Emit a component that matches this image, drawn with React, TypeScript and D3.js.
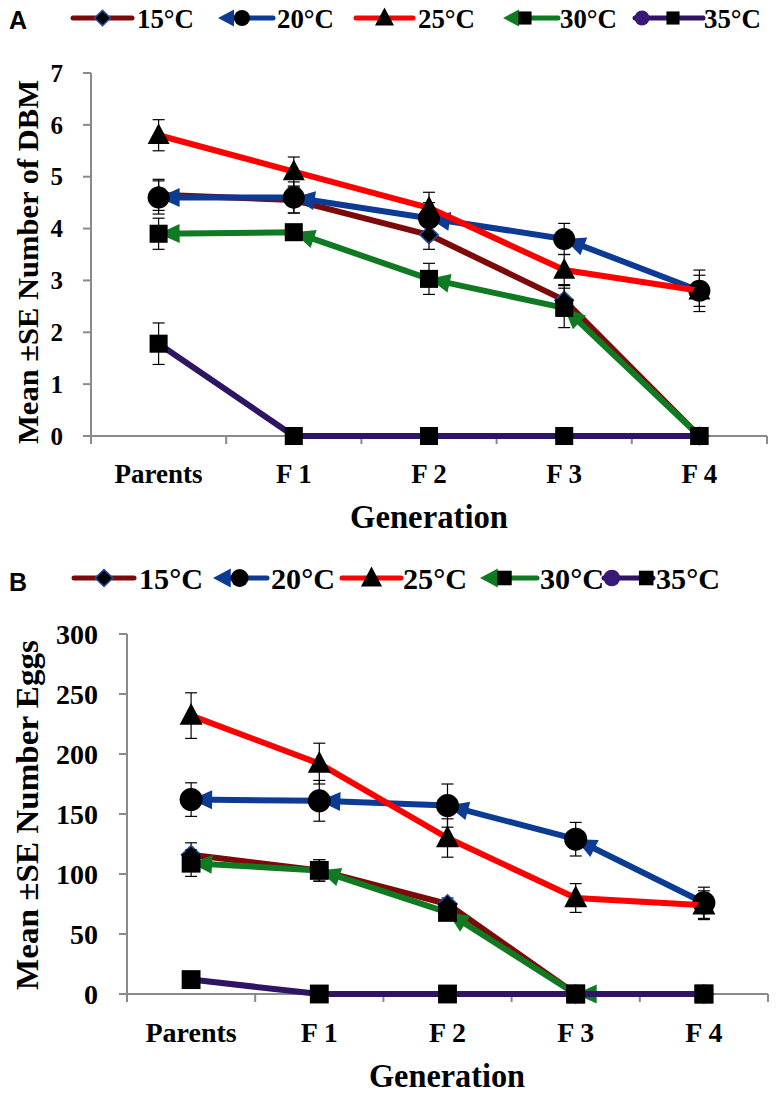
import React from "react"
import * as d3 from "d3"

const generations = ["Parents", "F 1", "F 2", "F 3", "F 4"]
const temps = ["15°C", "20°C", "25°C", "30°C", "35°C"]

// Panel A: number of DBM
const dbm15 = [4.65, 4.55, 3.88, 2.62, 0]
const dbm20 = [4.6, 4.6, 4.2, 3.8, 2.8]
const dbm25 = [5.8, 5.1, 4.4, 3.2, 2.8]
const dbm30 = [3.9, 3.93, 3.03, 2.47, 0]
const dbm35 = [1.78, 0, 0, 0, 0]
const dbmSe15 = [0.3, 0.25, 0.28, 0.3, 0]
const dbmSe20 = [0.32, 0.3, 0.3, 0.3, 0.3]
const dbmSe25 = [0.3, 0.28, 0.3, 0.3, 0.4]
const dbmSe30 = [0.3, 0.08, 0.3, 0.38, 0]
const dbmSe35 = [0.4, 0, 0, 0, 0]
const dbmTicks = [0, 1, 2, 3, 4, 5, 6, 7]

// Panel B: number of eggs
const eggs15 = [116, 103, 75, 0, 0]
const eggs20 = [162, 161, 157, 129, 76]
const eggs25 = [232, 192, 130, 80, 74]
const eggs30 = [109, 103, 68, 0, 0]
const eggs35 = [12, 0, 0, 0, 0]
const eggsSe15 = [10, 9, 5, 0, 0]
const eggsSe20 = [14, 17, 18, 14, 13]
const eggsSe25 = [19, 17, 16, 12, 12]
const eggsSe30 = [11, 9, 5, 0, 0]
const eggsSe35 = [2, 0, 0, 0, 0]
const eggsTicks = [0, 50, 100, 150, 200, 250, 300]

const lineColors = ["#7d0a0a", "#0c3b93", "#ff0000", "#0f7a22", "#2e1462"]
const shapes = ["diamond", "circle", "triangle", "square", "square"]
const starts = ["none", "arrow", "none", "arrow", "oval"]

const serif = "Liberation Serif, Tinos, Times New Roman, DejaVu Serif, serif"
const axisGray = "#8a8a8a"

type Pt = { x: number; y: number }

function arrowPoints(tip: Pt, from: Pt, len: number, wid: number) {
  const a = Math.atan2(tip.y - from.y, tip.x - from.x)
  const bx = tip.x - len * Math.cos(a)
  const by = tip.y - len * Math.sin(a)
  const px = (-Math.sin(a) * wid) / 2
  const py = (Math.cos(a) * wid) / 2
  return `${tip.x},${tip.y} ${bx + px},${by + py} ${bx - px},${by - py}`
}

function Marker({ shape, x, y, s }: { shape: string; x: number; y: number; s: number }) {
  if (shape === "circle") return <circle cx={x} cy={y} r={s / 2} fill="#000" />
  if (shape === "square")
    return <rect x={x - (s * 0.82) / 2} y={y - (s * 0.82) / 2} width={s * 0.82} height={s * 0.82} fill="#000" />
  if (shape === "triangle")
    return (
      <polygon
        points={`${x},${y - s * 0.55} ${x + s / 2},${y + s * 0.4} ${x - s / 2},${y + s * 0.4}`}
        fill="#000"
      />
    )
  // diamond with blue rim
  const w = s * 0.42
  const h = s * 0.4
  return (
    <polygon
      points={`${x},${y - h} ${x + w},${y} ${x},${y + h} ${x - w},${y}`}
      fill="#000"
      stroke="#1d4fa8"
      strokeWidth={1.5}
    />
  )
}

interface PanelProps {
  letter: string
  letterY: number
  series: number[][]
  errors: number[][]
  ticks: number[]
  yMax: number
  left: number
  right: number
  top: number
  bottom: number
  yTitle: string
  yTitleX: number
  yTitleY: number
  yTitleLen: number
  yTitleSize: number
  tickSize: number
  tickGap: number
  catSize: number
  catY: number
  genY: number
  genX: number
  genLen: number
  legendY: number
  legendSize: number
  legStart: number[]
  legEnd: number[]
  legText: number[]
  legTextLen: number
  markerSize: number
}

function Panel(p: PanelProps) {
  const x = d3.scalePoint<string>().domain(generations).range([p.left, p.right]).padding(0.5)
  const y = d3.scaleLinear().domain([0, p.yMax]).range([p.bottom, p.top])
  const step = x.step()
  const boundaries = d3.range(generations.length + 1).map((i) => p.left + i * step)

  const line = d3
    .line<number>()
    .x((_, i) => x(generations[i])!)
    .y((d) => y(d))

  const lg = p.legendSize / 27
  return (
    <g>
      <text
        x={9}
        y={p.letterY}
        fontFamily="Liberation Sans, Arimo, Arial, sans-serif"
        fontWeight="bold"
        fontSize={25}
      >
        {p.letter}
      </text>

      {/* legend */}
      {temps.map((t, i) => {
        const cy = p.legendY
        const s = p.legStart[i]
        const e = p.legEnd[i]
        const c = lineColors[i]
        let lineStart = s
        const parts: React.ReactNode[] = []
        if (starts[i] === "arrow") {
          lineStart = s + 10 * lg
          parts.push(
            <polygon
              key="ar"
              points={arrowPoints({ x: s, y: cy }, { x: e, y: cy }, 16 * lg, 17 * lg)}
              fill={c}
            />
          )
        }
        if (starts[i] === "oval") {
          parts.push(<circle key="ov" cx={s + 7 * lg} cy={cy} r={7.5 * lg} fill="#3a1878" />)
        }
        let mx = (s + e) / 2
        if (i === 1) mx = s + 24 * lg
        if (i === 3) mx = s + 22 * lg
        if (i === 4) mx = s + 38 * lg
        return (
          <g key={t}>
            <line x1={lineStart} x2={e} y1={cy} y2={cy} stroke={c} strokeWidth={5} strokeLinecap="round" />
            {parts}
            <Marker shape={shapes[i]} x={mx} y={cy} s={(i === 0 ? 19 : i === 2 ? 19 : 16) * lg} />
            <text
              x={p.legText[i]}
              y={cy + 10 * lg}
              fontFamily={serif}
              fontWeight="bold"
              fontSize={p.legendSize}
              textLength={p.legTextLen}
              lengthAdjust="spacingAndGlyphs"
            >
              {t}
            </text>
          </g>
        )
      })}

      {/* axes */}
      <line x1={p.left} x2={p.left} y1={p.top} y2={p.bottom} stroke={axisGray} strokeWidth={2} />
      <line x1={p.left} x2={p.right} y1={p.bottom} y2={p.bottom} stroke={axisGray} strokeWidth={2} />
      {p.ticks.map((t) => (
        <g key={t}>
          <line x1={p.left - 8} x2={p.left} y1={y(t)} y2={y(t)} stroke={axisGray} strokeWidth={2} />
          <text
            x={p.left - p.tickGap}
            y={y(t)}
            dy="0.35em"
            textAnchor="end"
            fontFamily={serif}
            fontWeight="bold"
            fontSize={p.tickSize}
          >
            {t}
          </text>
        </g>
      ))}
      {boundaries.map((b, i) => (
        <line key={i} x1={b} x2={b} y1={p.bottom} y2={p.bottom + 8} stroke={axisGray} strokeWidth={2} />
      ))}
      {generations.map((g) => (
        <text
          key={g}
          x={x(g)}
          y={p.catY}
          textAnchor="middle"
          fontFamily={serif}
          fontWeight="bold"
          fontSize={p.catSize}
        >
          {g}
        </text>
      ))}
      <text
        x={p.genX}
        y={p.genY}
        textAnchor="middle"
        fontFamily={serif}
        fontWeight="bold"
        fontSize={33}
        textLength={p.genLen}
        lengthAdjust="spacingAndGlyphs"
      >
        Generation
      </text>
      <text
        transform={`translate(${p.yTitleX},${p.yTitleY}) rotate(-90)`}
        textAnchor="middle"
        fontFamily={serif}
        fontWeight="bold"
        fontSize={p.yTitleSize}
        textLength={p.yTitleLen}
        lengthAdjust="spacingAndGlyphs"
      >
        {p.yTitle}
      </text>

      {/* series */}
      {p.series.map((vals, si) => {
        const pts = vals.map((v, i) => ({ x: x(generations[i])!, y: y(v) }))
        const c = lineColors[si]
        return (
          <g key={si}>
            <path d={line(vals)!} fill="none" stroke={c} strokeWidth={6} strokeLinejoin="round" />
            {starts[si] === "arrow" &&
              pts.slice(0, -1).map((pt, i) => (
                <polygon key={i} points={arrowPoints(pt, pts[i + 1], 21, 19)} fill={c} />
              ))}
            {starts[si] === "oval" &&
              pts.slice(0, -1).map((pt, i) => <circle key={i} cx={pt.x} cy={pt.y} r={7} fill={c} />)}
            {vals.map((v, i) => {
              const se = p.errors[si][i]
              if (!se) return null
              const cx = pts[i].x
              return (
                <g key={"e" + i} stroke="#000" strokeWidth={1.2}>
                  <line x1={cx} x2={cx} y1={y(v - se)} y2={y(v + se)} />
                  <line x1={cx - 6} x2={cx + 6} y1={y(v - se)} y2={y(v - se)} />
                  <line x1={cx - 6} x2={cx + 6} y1={y(v + se)} y2={y(v + se)} />
                </g>
              )
            })}
            {pts.map((pt, i) => (
              <Marker key={"m" + i} shape={shapes[si]} x={pt.x} y={pt.y} s={p.markerSize} />
            ))}
          </g>
        )
      })}
    </g>
  )
}

export default function App() {
  return (
    <svg
      width={777}
      height={1094}
      style={{ position: "absolute", left: 0, top: 0, background: "#fff" }}
    >
      <rect width={777} height={1094} fill="#fff" />
      <Panel
        letter="A"
        letterY={29}
        series={[dbm15, dbm20, dbm25, dbm30, dbm35]}
        errors={[dbmSe15, dbmSe20, dbmSe25, dbmSe30, dbmSe35]}
        ticks={dbmTicks}
        yMax={7}
        left={91}
        right={767}
        top={73}
        bottom={436}
        yTitle="Mean ±SE Number of DBM"
        yTitleX={38}
        yTitleY={262}
        yTitleLen={364}
        yTitleSize={30}
        tickSize={25}
        tickGap={28}
        catSize={27}
        catY={483}
        genY={528}
        genX={429}
        genLen={158}
        legendY={18}
        legendSize={27}
        legStart={[73, 218, 356, 503, 635]}
        legEnd={[132, 273, 413, 558, 703]}
        legText={[137, 277, 418, 560, 704]}
        legTextLen={57}
        markerSize={22}
      />
      <Panel
        letter="B"
        letterY={591}
        series={[eggs15, eggs20, eggs25, eggs30, eggs35]}
        errors={[eggsSe15, eggsSe20, eggsSe25, eggsSe30, eggsSe35]}
        ticks={eggsTicks}
        yMax={300}
        left={127}
        right={768}
        top={634}
        bottom={994}
        yTitle="Mean ±SE Number Eggs"
        yTitleX={38}
        yTitleY={815}
        yTitleLen={350}
        yTitleSize={31}
        tickSize={28}
        tickGap={29}
        catSize={28}
        catY={1042}
        genY={1087}
        genX={447}
        genLen={156}
        legendY={578}
        legendSize={30}
        legStart={[74, 213, 342, 480, 604]}
        legEnd={[134, 267, 401, 537, 653]}
        legText={[139, 271, 403, 540, 656]}
        legTextLen={64}
        markerSize={23}
      />
    </svg>
  )
}
